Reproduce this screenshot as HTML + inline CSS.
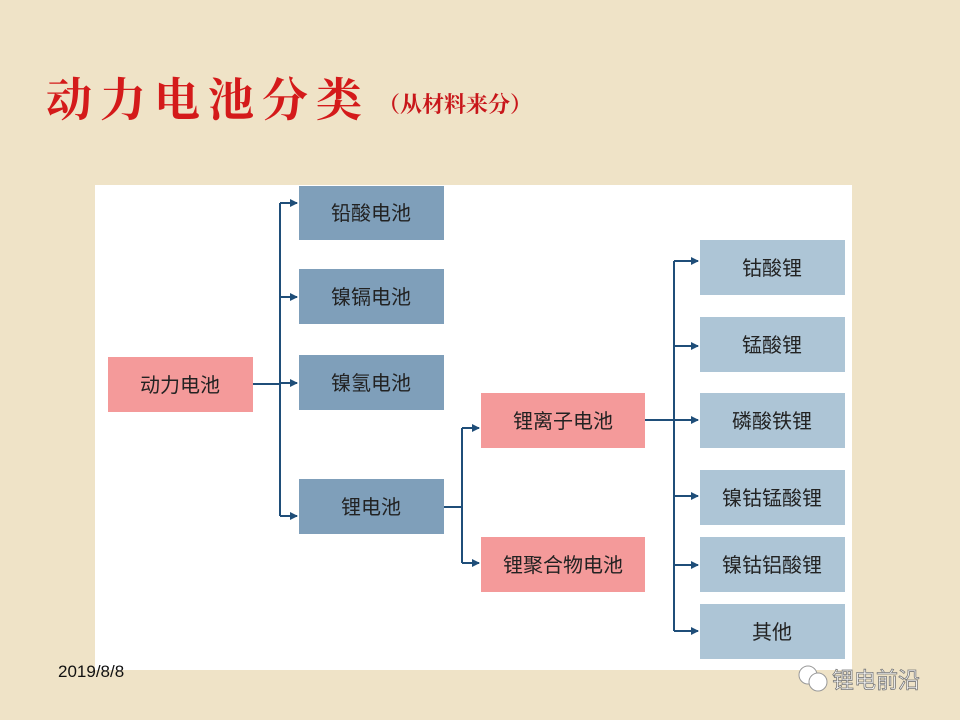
<!DOCTYPE html>
<html><head><meta charset="utf-8"><style>
body{margin:0;width:960px;height:720px;overflow:hidden;background:#efe3c7;font-family:"Liberation Sans","Noto Sans CJK SC",sans-serif;}
</style></head><body>
<svg width="960" height="720" xmlns="http://www.w3.org/2000/svg" style="position:absolute;left:0;top:0">
<defs><marker id="a" markerWidth="8" markerHeight="8" refX="7" refY="4" orient="auto" markerUnits="userSpaceOnUse"><path d="M0,0 L8,4 L0,8z" fill="#1f4e79"/></marker></defs>
<rect x="0" y="0" width="960" height="720" fill="#efe3c7"/>
<text x="46" y="116" font-family="'Noto Serif CJK SC',serif" font-weight="bold" font-size="46" fill="#d41a1a" letter-spacing="8">动力电池分类</text>
<text x="378" y="112" font-family="'Noto Serif CJK SC',serif" font-weight="bold" font-size="22" fill="#c8161a">（从材料来分）</text>
<rect x="95" y="185" width="757" height="485" fill="#fff"/>
<g stroke="#1f4e79" stroke-width="2" fill="none">
<path d="M253,384 H280 M280,203 V516 M462,428 V563 M444,507 H462 M645,420 H674 M674,261 V631"/>
<path d="M280,203 H297" marker-end="url(#a)"/><path d="M280,297 H297" marker-end="url(#a)"/>
<path d="M280,383 H297" marker-end="url(#a)"/><path d="M280,516 H297" marker-end="url(#a)"/>
<path d="M462,428 H479" marker-end="url(#a)"/><path d="M462,563 H479" marker-end="url(#a)"/>
<path d="M674,261 H698" marker-end="url(#a)"/><path d="M674,346 H698" marker-end="url(#a)"/>
<path d="M674,420 H698" marker-end="url(#a)"/><path d="M674,496 H698" marker-end="url(#a)"/>
<path d="M674,565 H698" marker-end="url(#a)"/><path d="M674,631 H698" marker-end="url(#a)"/>
</g>
<g font-size="20" text-anchor="middle" fill="#222">
<rect x="108" y="357" width="145" height="55" fill="#f49a9a"/><text x="180" y="392">动力电池</text>
<rect x="299" y="186" width="145" height="54" fill="#7f9fba"/><text x="371" y="220">铅酸电池</text>
<rect x="299" y="269" width="145" height="55" fill="#7f9fba"/><text x="371" y="304">镍镉电池</text>
<rect x="299" y="355" width="145" height="55" fill="#7f9fba"/><text x="371" y="390">镍氢电池</text>
<rect x="299" y="479" width="145" height="55" fill="#7f9fba"/><text x="371" y="514">锂电池</text>
<rect x="481" y="393" width="164" height="55" fill="#f49a9a"/><text x="563" y="428">锂离子电池</text>
<rect x="481" y="537" width="164" height="55" fill="#f49a9a"/><text x="563" y="572">锂聚合物电池</text>
<rect x="700" y="240" width="145" height="55" fill="#adc5d6"/><text x="772" y="275">钴酸锂</text>
<rect x="700" y="317" width="145" height="55" fill="#adc5d6"/><text x="772" y="352">锰酸锂</text>
<rect x="700" y="393" width="145" height="55" fill="#adc5d6"/><text x="772" y="428">磷酸铁锂</text>
<rect x="700" y="470" width="145" height="55" fill="#adc5d6"/><text x="772" y="505">镍钴锰酸锂</text>
<rect x="700" y="537" width="145" height="55" fill="#adc5d6"/><text x="772" y="572">镍钴铝酸锂</text>
<rect x="700" y="604" width="145" height="55" fill="#adc5d6"/><text x="772" y="639">其他</text>
</g>
<text x="58" y="677" font-size="17" fill="#111">2019/8/8</text>
<circle cx="808" cy="675" r="9" fill="#fff" stroke="#999"/><circle cx="818" cy="682" r="9" fill="#fff" stroke="#999"/>
<text x="832" y="688" font-size="22" fill="#fff" stroke="#777" stroke-width="0.8">锂电前沿</text>
</svg>
</body></html>
